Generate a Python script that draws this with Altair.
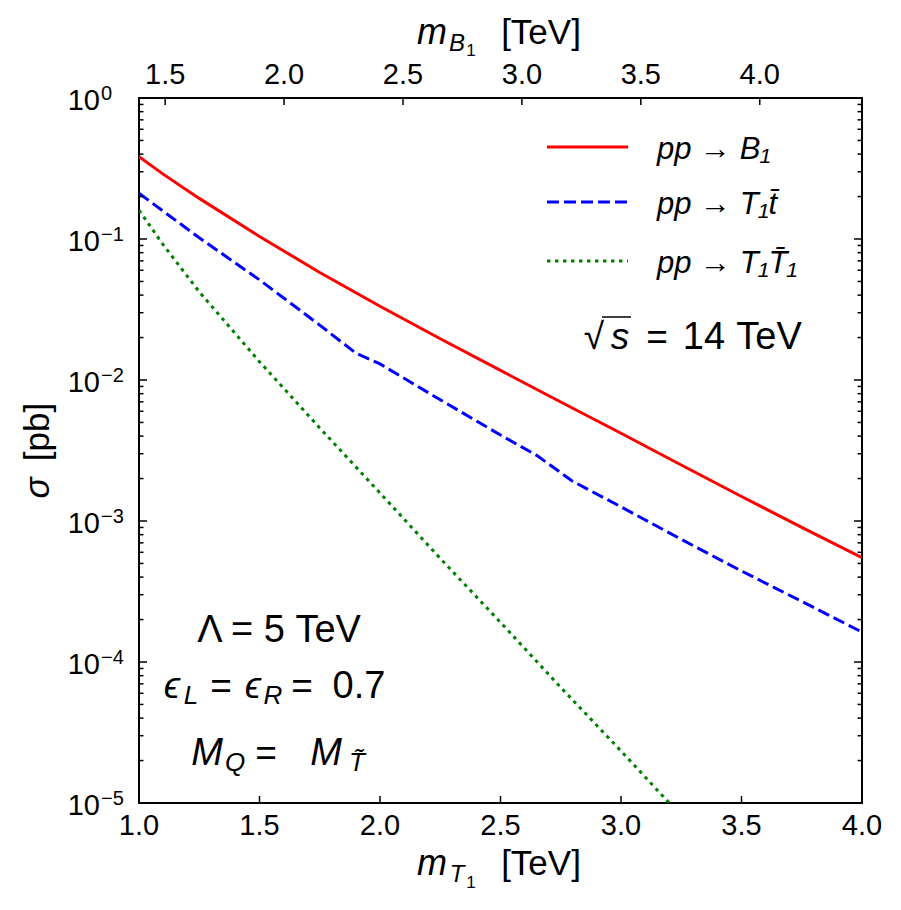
import altair as alt
import pandas as pd

FONT = "Liberation Sans"

# ---------------- data ----------------
mT_B1 = [1.0, 1.1, 1.25, 1.5, 1.75, 2.0, 2.25, 2.5, 2.75, 3.0, 3.25, 3.5, 3.75, 4.0]
sigma_B1 = [0.384, 0.2884, 0.1941, 0.1042, 0.0579, 0.03334, 0.01963, 0.01169, 0.00698,
            0.00419, 0.002495, 0.001493, 0.000902, 0.00055]

mT_T1t = [1.0, 1.25, 1.5, 1.75, 1.9, 2.0, 2.25, 2.5, 2.65, 2.8, 3.0, 3.25, 3.5, 3.75, 4.0]
sigma_T1t = [0.211, 0.102, 0.0513, 0.0245, 0.0155, 0.0130, 0.00724, 0.00407, 0.00292,
             0.00191, 0.00126, 0.000741, 0.000442, 0.000269, 0.000163]

mT_T1T1 = [1.0, 1.1, 1.25, 1.5, 1.75, 2.0, 2.25, 2.5, 2.75, 3.0, 3.2]
sigma_T1T1 = [0.16, 0.0912, 0.0422, 0.01349, 0.00457, 0.00158, 0.000543, 0.000191,
              6.6e-5, 2.34e-5, 1.0e-5]

x_bottom_ticks = [1.0, 1.5, 2.0, 2.5, 3.0, 3.5, 4.0]
x_bottom_labels = ["1.0", "1.5", "2.0", "2.5", "3.0", "3.5", "4.0"]
x_top_ticks = [1.5, 2.0, 2.5, 3.0, 3.5, 4.0]
x_top_labels = ["1.5", "2.0", "2.5", "3.0", "3.5", "4.0"]
y_exponents = [0, -1, -2, -3, -4, -5]
y_exp_labels = ["0", "\u22121", "\u22122", "\u22123", "\u22124", "\u22125"]
minor_mantissas = [2, 3, 4, 5, 6, 7, 8, 9]

# ---------------- layout ----------------
W, H = 723, 705
XS = alt.Scale(domain=[1.0, 4.0], nice=False, zero=False)
XT = alt.Scale(domain=[1.39, 4.43], nice=False, zero=False)
YS = alt.Scale(type="log", domain=[1e-5, 1.0], nice=False)

layers = []


def line(xs, ys, color, dash=None):
    mk = dict(color=color, strokeWidth=3, clip=True)
    if dash:
        mk["strokeDash"] = dash
    return alt.Chart(pd.DataFrame({"m": xs, "s": ys})).mark_line(**mk).encode(
        x=alt.X("m:Q", scale=XS, axis=None),
        y=alt.Y("s:Q", scale=YS, axis=None),
        order="m:Q",
    )


def txt(s, x, y, size, italic=False, align="center", angle=None):
    mk = dict(font=FONT, fontSize=size, align=align, baseline="alphabetic", color="black")
    if italic:
        mk["fontStyle"] = "italic"
    if angle is not None:
        mk["angle"] = angle
    return alt.Chart(pd.DataFrame({"t": [s]})).mark_text(**mk).encode(
        x=alt.value(x), y=alt.value(y), text="t:N"
    )


layers.append(line(mT_T1T1, sigma_T1T1, "#008000", [3.5, 4.5]))
layers.append(line(mT_T1t, sigma_T1t, "#0000ff", [12, 5]))
layers.append(line(mT_B1, sigma_B1, "#ff0000"))

# y ticks (left and right, inward)
ymaj = pd.DataFrame({"v": [10.0 ** e for e in y_exponents]})
ymin = pd.DataFrame({"v": [m * 10.0 ** e for e in y_exponents[1:] for m in minor_mantissas]})
for df, ln in [(ymaj, 8), (ymin, 4.5)]:
    for x0, x1 in [(0, ln), (W - ln, W)]:
        layers.append(
            alt.Chart(df).mark_rule(color="black", strokeWidth=1.5).encode(
                y=alt.Y("v:Q", scale=YS, axis=None), x=alt.value(x0), x2=alt.value(x1)
            )
        )

# bottom ticks + labels
bdf = pd.DataFrame({"m": x_bottom_ticks, "lab": x_bottom_labels})
layers.append(
    alt.Chart(bdf).mark_rule(color="black", strokeWidth=1.5).encode(
        x=alt.X("m:Q", scale=XS, axis=None), y=alt.value(H), y2=alt.value(H - 7)
    )
)
layers.append(
    alt.Chart(bdf).mark_text(font=FONT, fontSize=29, baseline="alphabetic", align="center").encode(
        x=alt.X("m:Q", scale=XS, axis=None), y=alt.value(737), text="lab:N"
    )
)

# top ticks + labels (m_B1 scale)
tdf = pd.DataFrame({"mb": x_top_ticks, "lab": x_top_labels})
layers.append(
    alt.Chart(tdf).mark_rule(color="black", strokeWidth=1.5).encode(
        x=alt.X("mb:Q", scale=XT, axis=None), y=alt.value(0), y2=alt.value(7)
    )
)
layers.append(
    alt.Chart(tdf).mark_text(font=FONT, fontSize=29, baseline="alphabetic", align="center").encode(
        x=alt.X("mb:Q", scale=XT, axis=None), y=alt.value(-14), text="lab:N"
    )
)

# y tick labels 10^k
ydf = pd.DataFrame({"v": [10.0 ** e for e in y_exponents], "base": ["10"] * 6, "ex": y_exp_labels})
layers.append(
    alt.Chart(ydf).mark_text(font=FONT, fontSize=29, baseline="alphabetic", align="right", dy=12).encode(
        y=alt.Y("v:Q", scale=YS, axis=None), x=alt.value(-39), text="base:N"
    )
)
layers.append(
    alt.Chart(ydf).mark_text(font=FONT, fontSize=20, baseline="alphabetic", align="left", dy=2).encode(
        y=alt.Y("v:Q", scale=YS, axis=None), x=alt.value(-38), text="ex:N"
    )
)

# axis titles
layers += [
    txt("m", 293, 777, 36, italic=True),
    txt("T", 318, 784, 24, italic=True),
    txt("1", 332, 790, 17),
    txt("[TeV]", 402, 777, 35),
    txt("m", 293, -54, 36, italic=True),
    txt("B", 318, -47, 24, italic=True),
    txt("1", 332, -42, 17),
    txt("[TeV]", 402, -54, 35),
    txt("\u03c3", -90, 390, 35, italic=True, angle=270),
    txt("[pb]", -90, 334, 35, angle=270),
]

# legend
legend_rows = [
    ("#ff0000", None, 49, "pp \u2192 B\u2081", 61),
    ("#0000ff", [12, 5], 104, "pp \u2192 T\u2081t\u0304", 116),
    ("#008000", [3.5, 4.5], 163, "pp \u2192 T\u2081T\u0304\u2081", 175),
]
for col, dash, yl, label, yb in legend_rows:
    mk = dict(color=col, strokeWidth=3)
    if dash:
        mk["strokeDash"] = dash
    layers.append(
        alt.Chart(pd.DataFrame({"a": [0]})).mark_rule(**mk).encode(
            x=alt.value(408), x2=alt.value(489), y=alt.value(yl)
        )
    )
    layers.append(txt(label, 518, yb, 31, italic=True, align="left"))

# annotations
layers += [
    txt("\u221a", 455, 251, 37),
    alt.Chart(pd.DataFrame({"a": [0]})).mark_rule(color="black", strokeWidth=1.5).encode(
        x=alt.value(463), x2=alt.value(492), y=alt.value(219)
    ),
    txt("s", 481, 251, 37, italic=True),
    txt("=", 518, 251, 37),
    txt("14", 565, 251, 38),
    txt("TeV", 630, 251, 38),
    txt("\u039b = 5 TeV", 140, 544, 38),
    txt("\u03f5", 33, 600, 37, italic=True),
    txt("L", 52, 606, 26, italic=True),
    txt("=", 82, 600, 37),
    txt("\u03f5", 114, 600, 37, italic=True),
    txt("R", 134, 606, 26, italic=True),
    txt("=", 163, 600, 37),
    txt("0.7", 220, 600, 38),
    txt("M", 68, 667, 38, italic=True),
    txt("Q", 96, 673, 26, italic=True),
    txt("=", 127, 667, 37),
    txt("M", 187, 667, 38, italic=True),
    txt("T\u0303", 218, 673, 26, italic=True),
]

chart = (
    alt.layer(*layers)
    .resolve_scale(x="independent")
    .properties(
        width=W,
        height=H,
        padding={"left": 131, "top": 90, "right": 30, "bottom": 99},
        autosize=alt.AutoSizeParams(type="none"),
        background="white",
    )
    .configure_view(stroke="black", strokeWidth=2)
)

chart.save("out.html", embed_options={"renderer": "svg", "actions": False})
